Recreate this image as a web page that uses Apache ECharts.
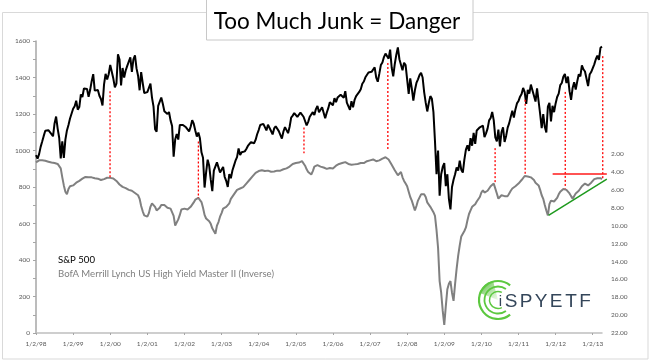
<!DOCTYPE html>
<html><head><meta charset="utf-8">
<script src="https://cdn.jsdelivr.net/npm/echarts@6/dist/echarts.min.js"></script>
<style>html,body{margin:0;padding:0;background:#fff}#c{width:650px;height:362px}</style>
</head><body><div id="c"></div>
<script>
// ---- sampling: semi-monthly (1st and 16th), starting 1/2/98 ----
const startYear = 1998;
const samplesPerYear = 24;
const xTickYears = [1998,1999,2000,2001,2002,2003,2004,2005,2006,2007,2008,2009,2010,2011,2012,2013];
const rightTickValues = [2,4,6,8,10,12,14,16,18,20,22];

// S&P 500 (left axis)
const spx = [
 975,955,980,1020,1049,1080,1108,1115,1111,1105,1090,1078,1148,1186,1120,1070,957,1050,960,1060,1110,1140,1175,1180,
 1229,1243,1273,1224,1238,1307,1293,1340,1335,1337,1294,1331,1380,1418,1328,1330,1331,1300,1282,1247,1362,1420,1389,1418,
 1469,1465,1394,1346,1366,1527,1499,1356,1452,1400,1438,1464,1455,1510,1431,1500,1521,1450,1410,1330,1429,1370,1315,1305,
 1320,1330,1366,1290,1240,1117,1103,1245,1249,1290,1256,1215,1224,1200,1211,1165,1134,966,1060,1090,1060,1140,1139,1140,
 1148,1127,1130,1105,1130,1166,1147,1110,1076,1098,1067,990,960,797,880,950,916,840,777,890,900,935,936,880,
 880,910,856,834,800,870,848,890,917,944,964,1011,975,990,980,995,1008,1025,1020,1046,1051,1040,1058,1089,
 1112,1140,1131,1146,1150,1110,1141,1134,1107,1088,1121,1133,1141,1106,1100,1065,1104,1128,1131,1095,1130,1180,1191,1205,
 1212,1184,1181,1208,1215,1185,1181,1138,1157,1185,1192,1210,1194,1227,1244,1210,1220,1237,1229,1177,1207,1232,1265,1267,
 1248,1287,1265,1290,1281,1305,1295,1289,1325,1262,1270,1223,1270,1237,1277,1298,1304,1321,1336,1366,1378,1401,1401,1427,
 1418,1431,1438,1456,1399,1377,1421,1468,1482,1512,1531,1533,1503,1553,1455,1406,1474,1525,1565,1500,1509,1440,1481,1468,
 1468,1310,1395,1340,1273,1330,1370,1390,1413,1426,1400,1320,1262,1214,1260,1298,1283,1210,1050,870,1000,752,870,910,
 931,805,870,735,677,800,840,870,907,890,944,895,879,950,1005,1028,998,1068,1026,1097,1036,1110,1110,1127,
 1133,1136,1074,1094,1120,1165,1178,1211,1165,1072,1050,1115,1022,1100,1127,1047,1080,1125,1150,1185,1218,1180,1225,1258,
 1271,1295,1310,1343,1320,1256,1332,1312,1361,1330,1300,1268,1340,1345,1200,1123,1200,1130,1099,1240,1261,1160,1245,1210,
 1258,1293,1312,1358,1370,1404,1419,1370,1405,1325,1278,1343,1374,1334,1379,1418,1406,1466,1445,1433,1428,1353,1416,1430,
 1426,1472,1500,1520,1496,1563,1569
];

// BofA Merrill Lynch US High Yield Master II (right axis, inverted)
const hy = [
 2.93,2.75,2.70,2.68,2.70,2.72,2.75,2.80,2.85,2.90,2.95,3.00,3.00,3.05,3.10,3.20,3.60,4.60,5.50,6.20,6.50,5.90,5.60,5.70,
 5.50,5.40,5.20,5.10,5.00,4.90,4.75,4.60,4.55,4.50,4.60,4.55,4.60,4.65,4.70,4.75,4.75,4.80,4.90,4.85,4.80,4.70,4.65,4.60,
 4.66,4.70,4.73,4.85,5.00,5.20,5.40,5.55,5.67,5.70,5.80,5.85,6.00,6.05,6.10,6.20,6.35,6.50,6.60,7.00,7.80,8.40,8.85,8.90,
 9.00,8.60,7.90,7.50,7.36,7.90,8.30,8.48,8.00,7.70,7.54,7.70,7.90,8.00,8.10,8.10,7.90,8.90,9.98,9.90,9.30,8.80,8.20,8.10,
 8.10,8.10,8.20,8.00,7.90,7.80,7.40,7.10,7.00,6.90,7.10,7.36,8.00,8.80,9.20,9.10,9.50,9.80,10.30,10.60,10.90,10.00,9.60,9.00,
 8.60,8.10,8.00,7.90,7.73,7.50,7.00,6.80,6.50,6.30,6.00,5.90,5.85,5.90,5.70,5.50,5.30,5.10,4.90,4.73,4.50,4.30,4.10,4.00,
 3.90,3.80,3.80,3.85,3.90,3.95,3.85,3.80,3.98,4.05,3.95,3.90,3.85,3.80,3.85,3.80,3.70,3.65,3.60,3.60,3.40,3.20,3.10,3.00,
 3.00,3.10,2.95,2.85,2.79,2.85,3.30,3.70,4.00,4.10,4.28,3.90,3.40,3.30,3.24,3.30,3.40,3.45,3.50,3.60,3.65,3.60,3.55,3.50,
 3.60,3.45,3.30,3.20,3.10,3.05,3.00,2.95,2.90,2.86,3.10,3.25,3.20,3.20,3.15,3.10,3.10,3.05,3.00,3.05,3.00,2.90,2.80,2.75,
 2.70,2.65,2.60,2.56,2.80,2.90,2.70,2.60,2.50,2.45,2.35,2.30,2.60,2.80,3.20,3.42,3.80,4.00,4.36,4.30,4.00,4.60,5.00,5.30,
 5.60,6.20,6.80,7.20,7.36,8.30,7.80,7.20,6.98,6.50,6.42,6.50,6.80,7.40,7.60,7.90,8.00,8.50,8.90,10.50,12.50,16.20,17.50,19.50,
 21.10,19.00,17.10,16.50,16.20,17.50,18.40,16.50,14.80,13.35,12.20,11.20,11.00,10.60,10.20,9.40,8.70,8.30,7.90,7.73,7.60,7.30,7.17,6.80,
 6.30,6.05,6.30,6.40,6.10,6.00,5.60,5.40,5.30,5.29,6.40,6.98,6.80,6.60,6.50,6.70,6.80,6.70,6.40,6.10,5.85,5.90,5.60,5.40,
 5.30,5.10,4.90,4.70,4.45,4.60,4.50,4.55,4.60,4.66,4.90,5.20,5.30,5.50,6.00,6.60,7.00,7.70,8.30,8.85,7.60,7.20,7.40,7.30,
 7.20,6.90,6.50,6.20,6.00,5.90,5.85,6.00,6.05,6.40,6.70,6.98,6.70,6.40,6.20,6.10,6.05,5.60,5.40,5.30,5.30,5.50,5.40,5.20,
 5.00,4.80,4.73,4.70,4.66,4.70,4.80
];

// annotations (x in fractional years, y in axis units)
const dropYears = [1999.995, 2002.375, 2005.22, 2007.48, 2010.37, 2011.18, 2012.26, 2013.27];
const dropSpx   = [1324, 1049, 1126, 1480, 1013, 1278, 1321, 1517];
const dropHy    = [4.66, 6.90, 1.92, 1.55, 5.29, 4.36, 5.85, 4.73];
const resistYears = [2011.92, 2013.38];
const resistHy    = [4.22, 4.22];
const supportYears = [2011.81, 2013.38];
const supportHy    = [8.85, 4.80];

const xOf = i => startYear + i / samplesPerYear;
const spxData = spx.map((v, i) => [xOf(i), v]);
const hyData = hy.map((v, i) => [xOf(i), v]);

const FONT = 'Lato, "Liberation Sans", sans-serif';
const chart = echarts.init(document.getElementById('c'), null, {renderer: 'canvas'});
const labelColor = '#595959';

chart.setOption({
  animation: false,
  backgroundColor: '#fff',
  grid: {left: 36, right: 48, top: 41, bottom: 29, containLabel: false},
  xAxis: {
    type: 'value', min: 1998, max: 2013.25,
    axisLine: {lineStyle: {color: '#bfbfbf', width: 1.5}},
    axisTick: {show: true, length: 2, customValues: xTickYears, lineStyle: {color: '#a6a6a6'}},
    axisLabel: {customValues: xTickYears, color: labelColor, fontSize: 6.5, fontFamily: FONT, margin: 7,
      formatter: v => '1/2/' + String(Math.round(v) % 100).padStart(2, '0')},
    splitLine: {show: false}
  },
  yAxis: [{
    type: 'value', min: 0, max: 1600, interval: 200,
    axisLine: {show: true, lineStyle: {color: '#a6a6a6', width: 1.5}},
    axisTick: {show: true, length: 3, lineStyle: {color: '#a6a6a6'}},
    minorTick: {show: true, splitNumber: 2, length: 3, lineStyle: {color: '#a6a6a6'}},
    axisLabel: {color: labelColor, fontSize: 6.5, fontFamily: FONT, margin: 6, formatter: v => String(v)},
    splitLine: {show: false}
  }, {
    type: 'value', min: -10.64, max: 22, inverse: true, position: 'right',
    axisLine: {show: false}, axisTick: {show: false},
    axisLabel: {customValues: rightTickValues, color: labelColor, fontSize: 6.5, fontFamily: FONT, margin: 9,
      formatter: v => v > 0.5 ? v.toFixed(2) : ''},
    splitLine: {show: false}
  }],
  series: [{
    name: 'BofA Merrill Lynch US High Yield Master II (Inverse)', type: 'line', yAxisIndex: 1,
    data: hyData, showSymbol: false, lineStyle: {color: '#808080', width: 2}, z: 2
  }, {
    name: 'S&P 500', type: 'line', yAxisIndex: 0,
    data: spxData, showSymbol: false, lineStyle: {color: '#000', width: 2}, z: 3
  }]
});

// ---- overlay graphics positioned through the chart's own scales ----
const pL = (x, y) => chart.convertToPixel({xAxisIndex: 0, yAxisIndex: 0}, [x, y]);
const pR = (x, y) => chart.convertToPixel({xAxisIndex: 0, yAxisIndex: 1}, [x, y]);
const g = [];
// outer frame
g.push({type: 'rect', shape: {x: 2.5, y: 12.5, width: 645.5, height: 346.5}, style: {fill: 'none', stroke: '#d9d9d9', lineWidth: 1}, z: 0});
// drop lines
dropYears.forEach((yr, i) => {
  const a = pL(yr, dropSpx[i]), b = pR(yr, dropHy[i]);
  g.push({type: 'line', shape: {x1: a[0], y1: a[1], x2: b[0], y2: b[1]},
    style: {stroke: '#ff0000', lineWidth: 1.3, lineDash: [2, 2]}, z: 50});
});
{
  const a = pR(resistYears[0], resistHy[0]), b = pR(resistYears[1], resistHy[1]);
  g.push({type: 'line', shape: {x1: a[0], y1: a[1], x2: b[0], y2: b[1]}, style: {stroke: '#ff1a1a', lineWidth: 1.6}, z: 50});
  const c = pR(supportYears[0], supportHy[0]), d = pR(supportYears[1], supportHy[1]);
  g.push({type: 'line', shape: {x1: c[0], y1: c[1], x2: d[0], y2: d[1]}, style: {stroke: '#1e9a1e', lineWidth: 1.5}, z: 50});
}
// title box
g.push({type: 'rect', shape: {x: 206.5, y: -1, width: 266.5, height: 41}, style: {fill: '#fff', stroke: '#c8c8c8', lineWidth: 1}, z: 60});
g.push({type: 'text', x: 337, y: 21.5, style: {text: 'Too Much Junk = Danger', fill: '#000', font: '22.5px ' + FONT, textAlign: 'center', textVerticalAlign: 'middle'}, z: 61});
// legend texts
g.push({type: 'text', x: 58, y: 260, style: {text: 'S&P 500', fill: '#000', font: '9.6px ' + FONT, textVerticalAlign: 'middle'}, z: 61});
g.push({type: 'text', x: 58, y: 273.5, style: {text: 'BofA Merrill Lynch US High Yield Master II (Inverse)', fill: '#7f7f7f', font: '9.6px ' + FONT, textVerticalAlign: 'middle'}, z: 61});
// logo
const lcx = 498, lcy = 300;
g.push({type: 'sector', shape: {cx: lcx, cy: lcy, r0: 0, r: 20, startAngle: Math.PI * 1.12, endAngle: Math.PI * 1.42},
  style: {fill: new echarts.graphic.LinearGradient(0, 0, 1, 1, [{offset: 0, color: '#3fae2a'}, {offset: 1, color: 'rgba(140,220,110,0.15)'}])}, z: 61});
[[19, 2.2, 0.28, 1.72], [13.5, 1.8, 0.3, 1.7], [8.5, 1.5, 0.35, 1.65]].forEach(([r, w, s, e]) => {
  g.push({type: 'arc', shape: {cx: lcx, cy: lcy, r: r, startAngle: Math.PI * s, endAngle: Math.PI * e, clockwise: true},
    style: {stroke: '#5cc83f', lineWidth: w, fill: 'none'}, z: 62});
});
const letters = [['i', 500.5, 15], ['S', 511, 19], ['P', 526, 19], ['Y', 541, 19], ['E', 556, 19], ['T', 571, 19], ['F', 585, 19]];
letters.forEach(([ch, x, s]) => {
  g.push({type: 'text', x: x, y: 302, style: {text: ch, fill: '#34465a', font: s + 'px "Liberation Sans", Arial, sans-serif', textAlign: 'center', textVerticalAlign: 'middle'}, z: 63});
});
chart.setOption({graphic: g});
</script>
</body></html>
